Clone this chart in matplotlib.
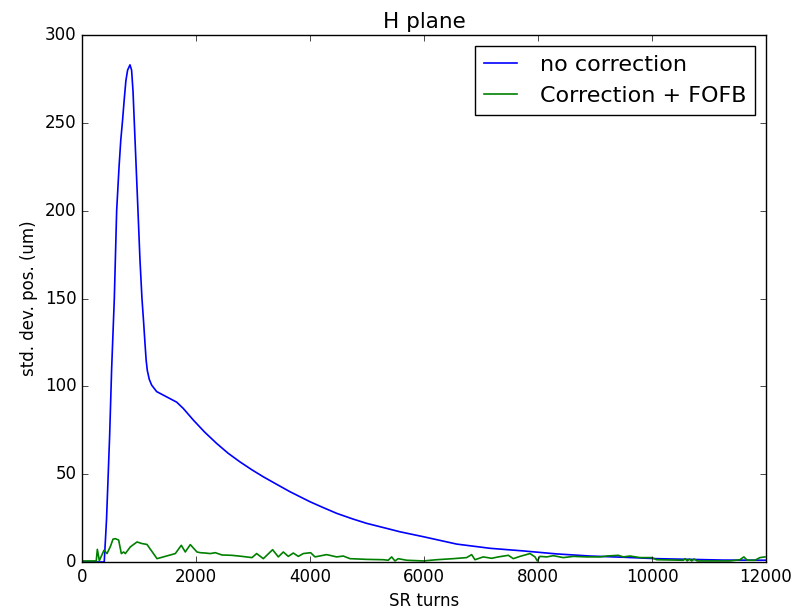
import matplotlib
matplotlib.use("Agg")
import matplotlib.pyplot as plt

plt.style.use("classic")

# "no correction" series (SR turns, std dev um)
turns_nc = [0, 200, 390, 430, 460, 485, 520, 567, 608, 650, 680, 713, 740, 770,
            800, 842, 870, 895, 918, 950, 982, 1017, 1052, 1080, 1105, 1125,
            1146, 1180, 1222, 1310, 1485, 1661, 1777, 1953, 2150, 2362, 2560,
            2771, 2980, 3181, 3400, 3649, 4000, 4230, 4468, 4750, 4994, 5300,
            5578, 5988, 6573, 7158, 7743, 8328, 8912, 9497, 10082, 10667,
            11245, 12000]
std_nc = [0, 0, 0, 24, 50, 72, 110, 150, 200, 225, 240, 252, 263, 274,
          280, 283, 280, 268, 250, 225, 200, 172, 150, 137, 124.5, 115,
          109, 104, 100.7, 97, 94, 91, 87.4, 80.8, 74, 67.5, 62,
          57, 52.5, 48.5, 44.5, 40, 34.3, 31, 27.7, 24.5, 22, 19.5,
          17.2, 14.4, 10.2, 7.8, 6.3, 4.6, 3.4, 2.7, 1.9, 1.5,
          1.1, 1.0]

# "Correction + FOFB" series
turns_fb = [0, 150, 250, 269, 304, 386, 439, 500, 544, 584, 643, 690, 731, 760,
            848, 965, 1052, 1140, 1316, 1461, 1637, 1742, 1812, 1900, 2017,
            2075, 2163, 2251, 2338, 2455, 2631, 2807, 2982, 3064, 3181, 3344,
            3444, 3532, 3619, 3707, 3795, 3882, 4011, 4087, 4292, 4467, 4584,
            4701, 4994, 5286, 5373, 5432, 5490, 5548, 5695, 5988, 6222, 6514,
            6748, 6836, 6894, 7040, 7187, 7304, 7480, 7567, 7684, 7860, 7947,
            7988, 8035, 8152, 8269, 8444, 8620, 8854, 9088, 9204, 9409, 9497,
            9614, 9789, 9994, 10082, 10550, 10580, 10620, 10655, 10696, 10736,
            10795, 11016, 11367, 11542, 11612, 11671, 11806, 11894, 11982]
std_fb = [0.6, 0.6, 0.6, 7.2, 0.8, 6.7, 4.8, 9.0, 13.0, 13.3, 12.5, 4.8, 5.7, 4.8,
          8.6, 11.4, 10.5, 10.0, 1.9, 3.2, 4.8, 9.5, 5.7, 9.9, 5.7,
          5.3, 5.1, 4.8, 5.3, 4.0, 3.8, 3.2, 2.5, 4.8, 1.9, 7.0,
          2.9, 5.7, 3.2, 5.1, 3.2, 4.8, 5.3, 2.9, 4.2, 2.9, 3.4,
          1.9, 1.5, 1.3, 1.0, 2.9, 0.6, 1.9, 1.0, 0.6, 1.3, 1.9,
          2.5, 4.2, 1.3, 2.9, 2.1, 2.9, 3.8, 1.9, 3.2, 4.8, 2.9,
          0.6, 3.2, 2.9, 3.6, 2.5, 3.2, 2.9, 2.9, 3.4, 3.8, 2.9,
          3.4, 2.5, 2.5, 1.3, 1.0, 1.9, 0.6, 1.7, 0.6, 1.7,
          0.6, 0.6, 0.6, 1.3, 2.9, 1.0, 1.0, 2.5, 2.9]

xticks = [0, 2000, 4000, 6000, 8000, 10000, 12000]
yticks = [0, 50, 100, 150, 200, 250, 300]

fig = plt.figure(figsize=(7.96, 6.13), dpi=100, facecolor="white")
ax = fig.add_axes([82 / 796, 1 - 562 / 613, (766 - 82) / 796, (562 - 35) / 613])
ax.plot(turns_nc, std_nc, color="b", lw=1.2, label="no correction")
ax.plot(turns_fb, std_fb, color="g", lw=1.2, label="Correction + FOFB")
ax.set_xlim(0, 12000)
ax.set_ylim(0, 300)
ax.set_xticks(xticks)
ax.set_yticks(yticks)
ax.tick_params(labelsize=12)
ax.set_xlabel("SR turns", fontsize=12)
ax.set_ylabel("std. dev. pos. (um)", fontsize=12)
ax.set_title("H plane", fontsize=15.5)
leg = ax.legend(loc="upper right", fontsize=16, fancybox=False, numpoints=1,
                handlelength=1.5, handletextpad=1.0)
leg.get_frame().set_edgecolor("black")
fig.savefig("out.png", dpi=100, facecolor="white")
